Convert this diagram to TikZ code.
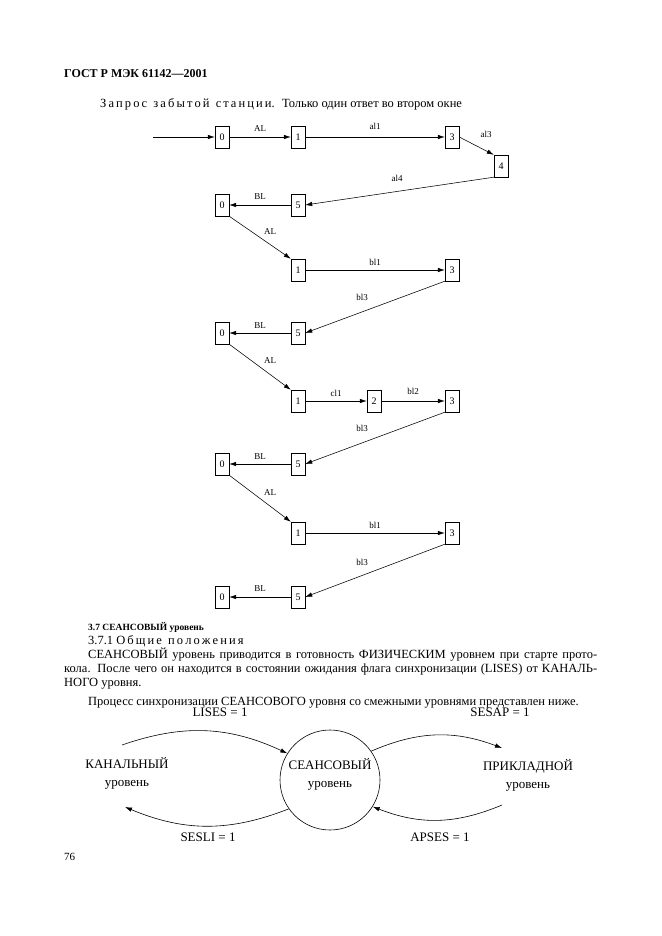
\documentclass[tikz,border=0pt]{standalone}
\usepackage{fontspec}
\setmainfont{Liberation Serif}
\usetikzlibrary{arrows.meta}
\begin{document}
\begin{tikzpicture}[x=1pt,y=-1pt,
  st/.style={draw,minimum width=14pt,minimum height=22pt,inner sep=0pt,font=\fontsize{10}{11}\selectfont},
  lab/.style={font=\fontsize{9}{10}\selectfont},
  ar/.style={-{Latex[length=7pt,width=4.5pt]},line width=0.55pt},
  big/.style={font=\fontsize{13}{18}\selectfont},
  tx/.style={anchor=base west,inner sep=0pt,font=\fontsize{12.5}{14}\selectfont}]
\useasboundingbox (0,0) rectangle (661,936);
\node[tx,font=\bfseries\fontsize{12}{14}\selectfont] (hdr) at (64,78) {ГОСТ Р МЭК 61142—2001};
\node[tx] (cap) at (100,108) {З\,а\,п\,р\,о\,с\ \ з\,а\,б\,ы\,т\,о\,й\ \ с\,т\,а\,н\,ц\,и\,и. \ Только один ответ во втором окне};
\coordinate (in) at (153,137);
\node[st] (a0) at (222,137) {0};
\node[st] (a1) at (298,137) {1};
\node[st] (a3) at (452,137) {3};
\node[st] (a4) at (501,166) {4};
\node[st] (b0) at (222,205) {0};
\node[st] (b5) at (298,205) {5};
\node[st] (c1) at (298,270) {1};
\node[st] (c3) at (452,270) {3};
\node[st] (d0) at (222,333) {0};
\node[st] (d5) at (298,333) {5};
\node[st] (e1) at (298,401) {1};
\node[st] (e2) at (374,401) {2};
\node[st] (e3) at (452,401) {3};
\node[st] (f0) at (222,464) {0};
\node[st] (f5) at (298,464) {5};
\node[st] (g1) at (298,533) {1};
\node[st] (g3) at (452,533) {3};
\node[st] (h0) at (222,597) {0};
\node[st] (h5) at (298,597) {5};
\draw[ar] (in) -- (a0);
\draw[ar] (a0) -- node[lab,above=2pt]{AL} (a1);
\draw[ar] (a1) -- node[lab,above=4pt]{al1} (a3);
\draw[ar] (a3.east) -- (a4.north west);
\node[lab] (l3) at (486,134) {al3};
\draw[ar] (a4.south west) -- (b5.east);
\node[lab] (l4) at (397,178) {al4};
\draw[ar] (b5) -- node[lab,above=2pt]{BL} (b0);
\draw[ar] (b0.south east) -- (c1.north west);
\node[lab] (l5) at (270,232) {AL};
\draw[ar] (c1) -- node[lab,above=1pt]{bl1} (c3);
\draw[ar] (c3.south west) -- (d5.east);
\node[lab] (l6) at (362,297) {bl3};
\draw[ar] (d5) -- node[lab,above=1pt]{BL} (d0);
\draw[ar] (d0.south east) -- (e1.north west);
\node[lab] (l7) at (270,361) {AL};
\draw[ar] (e1) -- node[lab,above=1pt]{cl1} (e2);
\draw[ar] (e2) -- node[lab,above=3pt]{bl2} (e3);
\draw[ar] (e3.south west) -- (f5.east);
\node[lab] (l8) at (362,428) {bl3};
\draw[ar] (f5) -- node[lab,above=1pt]{BL} (f0);
\draw[ar] (f0.south east) -- (g1.north west);
\node[lab] (l9) at (270,493) {AL};
\draw[ar] (g1) -- node[lab,above=1pt]{bl1} (g3);
\draw[ar] (g3.south west) -- (h5.east);
\node[lab] (l10) at (362,562) {bl3};
\draw[ar] (h5) -- node[lab,above=2pt]{BL} (h0);
% text
\node[tx,font=\bfseries\fontsize{9.5}{11}\selectfont] (s37) at (88,630) {3.7 СЕАНСОВЫЙ уровень};
\node[tx] (s371) at (88,644) {3.7.1 О\,б\,щ\,и\,е\ \ п\,о\,л\,о\,ж\,е\,н\,и\,я};
\node[anchor=north west,inner sep=0pt,text width=533pt,align=justify,font=\fontsize{12.5}{14}\selectfont] (par) at (64,648)
 {\hspace*{24pt}СЕАНСОВЫЙ уровень приводится в готовность ФИЗИЧЕСКИМ уровнем при старте прото-\linebreak
 кола. После чего он находится в состоянии ожидания флага синхронизации (LISES) от КАНАЛЬ-\linebreak
 НОГО уровня.\par\vspace{5pt}
 \hspace*{24pt}Процесс синхронизации СЕАНСОВОГО уровня со смежными уровнями представлен ниже.};
% bottom diagram
\node[circle,draw,minimum size=100pt,inner sep=0pt,line width=0.6pt] (ses) at (330,780) {};
\node[big,align=center] (sest) at (330,774) {СЕАНСОВЫЙ\\ уровень};
\node[big,align=center] (kan) at (127,773) {КАНАЛЬНЫЙ\\ уровень};
\node[big,align=center] (pri) at (528,775) {ПРИКЛАДНОЙ\\ уровень};
\coordinate (k1) at (122,745); \coordinate (k2) at (125,807);
\coordinate (p1) at (502,748); \coordinate (p2) at (502,805);
\draw[ar,line width=0.6pt] (k1) to[bend left=22] (ses.148);
\draw[ar,line width=0.6pt] (ses.215) to[bend left=22] (k2);
\draw[ar,line width=0.6pt] (ses.35) to[bend left=22] (p1);
\draw[ar,line width=0.6pt] (p2) to[bend left=22] (ses.328);
\node[big] (lises) at (220,712) {LISES = 1};
\node[big] (sesap) at (500,712) {SESAP = 1};
\node[big] (sesli) at (208,837) {SESLI = 1};
\node[big] (apses) at (440,837) {APSES = 1};
\node[tx,font=\fontsize{11}{12}\selectfont] (pg) at (64,860) {76};
\end{tikzpicture}
\end{document}
